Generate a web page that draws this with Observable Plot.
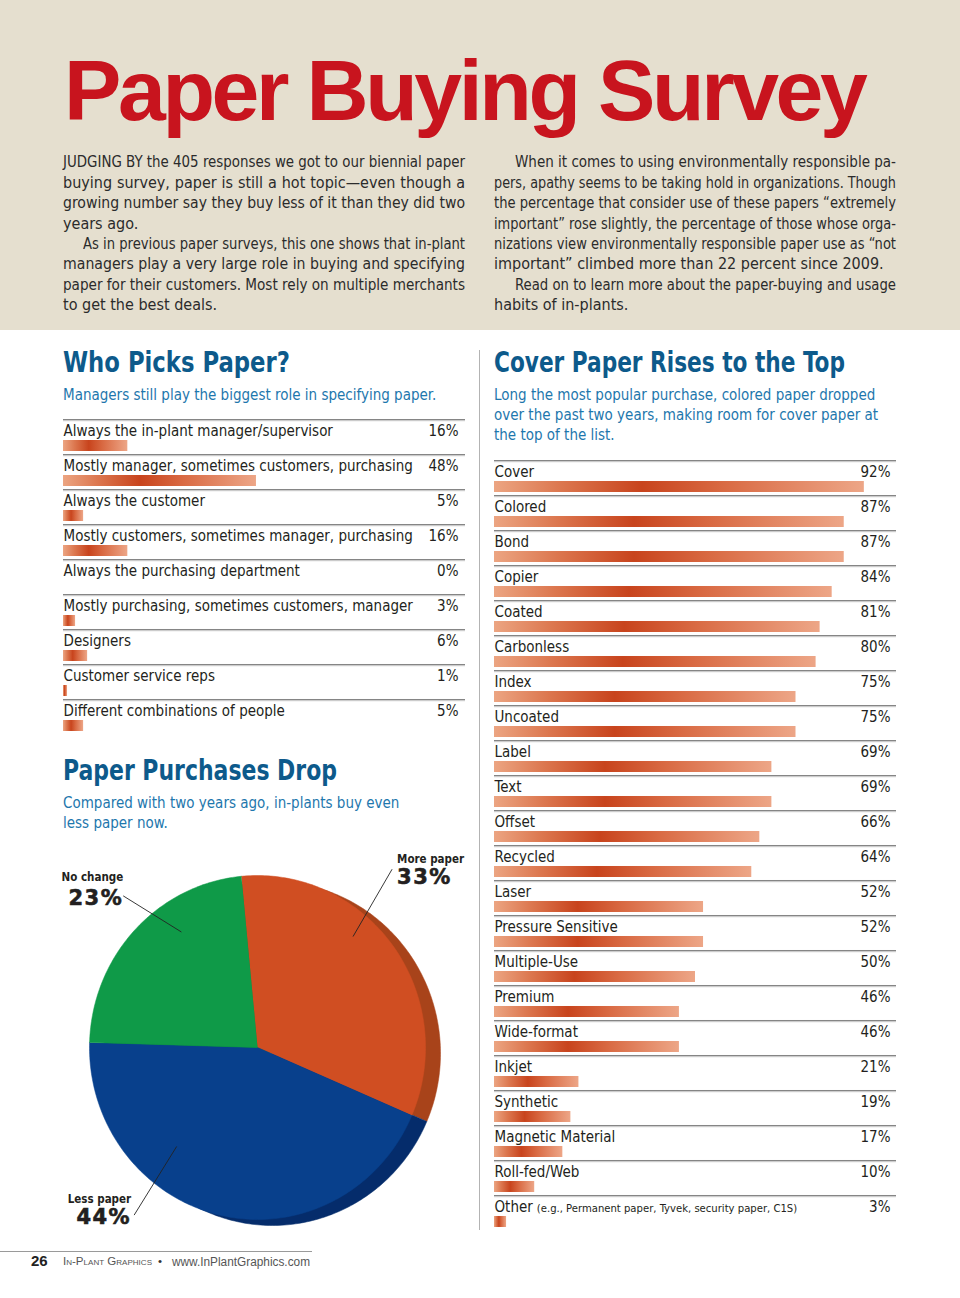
<!DOCTYPE html>
<html><head><meta charset="utf-8">
<script src="https://cdn.jsdelivr.net/npm/d3@7"></script>
<script src="https://cdn.jsdelivr.net/npm/@observablehq/plot@0.6"></script>
<style>
html,body{margin:0;padding:0;background:#fff;}
#page{position:relative;width:960px;height:1298px;overflow:hidden;font-family:"DejaVu Sans Condensed","DejaVu Sans",sans-serif;color:#231f20;}
.t{position:absolute;white-space:nowrap;}
#band{position:absolute;left:0;top:0;width:960px;height:330px;background:#e5dfcf;}
#divider{position:absolute;left:479px;top:350px;width:1px;height:880px;background:#b3b3b3;}
#footline{position:absolute;left:0;top:1251px;width:312px;height:1px;background:#9a9a9a;}
.chart{position:absolute;}
</style></head>
<body>
<svg width="0" height="0" style="position:absolute">
  <defs>
    <linearGradient id="barGrad" x1="0" y1="0" x2="1" y2="0">
      <stop offset="0" stop-color="#eca582"/>
      <stop offset="0.18" stop-color="#dc774f"/>
      <stop offset="0.40" stop-color="#c8441d"/>
      <stop offset="0.62" stop-color="#d96a43"/>
      <stop offset="1" stop-color="#eda687"/>
    </linearGradient>
  </defs>
</svg>
<div id="page">
  <div id="band"></div>
  <div id="divider"></div>
  <div id="footline"></div>
</div>
<script>
// ---------------- data ----------------
const whoLabels = ["Always the in-plant manager/supervisor","Mostly manager, sometimes customers, purchasing","Always the customer","Mostly customers, sometimes manager, purchasing","Always the purchasing department","Mostly purchasing, sometimes customers, manager","Designers","Customer service reps","Different combinations of people"];
const whoValues = [16,48,5,16,0,3,6,1,5];

const coverLabels = ["Cover","Colored","Bond","Copier","Coated","Carbonless","Index","Uncoated","Label","Text","Offset","Recycled","Laser","Pressure Sensitive","Multiple-Use","Premium","Wide-format","Inkjet","Synthetic","Magnetic Material","Roll-fed/Web","Other"];
const coverValues = [92,87,87,84,81,80,75,75,69,69,66,64,52,52,50,46,46,21,19,17,10,3];
const coverNotes = {"Other":"(e.g., Permanent paper, Tyvek, security paper, C1S)"};

const pieLabels = ["More paper","Less paper","No change"];
const pieValues = [33,44,23];

// ---------------- styles / layout ----------------
const COND = '"DejaVu Sans Condensed","DejaVu Sans",sans-serif';
const BLUE_H = "#0d5a8b", BLUE_S = "#1e77ad", INK = "#231f20";
const LABEL_FS = 15;
const page = document.getElementById("page");

function put(text, o){
  const d = document.createElement("div");
  d.className = "t";
  const fs = o.fs, lh = o.lh || fs;
  d.style.fontSize = fs + "px";
  d.style.lineHeight = lh + "px";
  d.style.left = o.left + "px";
  d.style.top = (o.base - lh/2 - 0.3465*fs) + "px";
  d.style.transformOrigin = "0 0";
  if (o.weight) d.style.fontWeight = o.weight;
  if (o.color) d.style.color = o.color;
  if (o.family) d.style.fontFamily = o.family;
  if (o.ls != null) d.style.letterSpacing = o.ls + "px";
  if (o.variant) d.style.fontVariant = o.variant;
  if (o.html) d.innerHTML = text; else d.textContent = text;
  page.appendChild(d);
  const nat = d.getBoundingClientRect().width;
  if (o.justify){
    const n = (text.match(/ /g)||[]).length;
    if (nat > o.justify) d.style.transform = `scaleX(${o.justify/nat})`;
    else if (n>0) d.style.wordSpacing = ((o.justify - nat)/n) + "px";
  } else if (o.fit){
    d.style.transform = `scaleX(${o.fit/nat})`;
  }
  return d;
}

// Title
put("Paper Buying Survey",{left:64,base:120,fs:86,weight:700,color:"#c8141e",family:'"Liberation Sans",Arial,sans-serif',ls:-3.4});

// Body columns
const bodyLeft = [
 ["JUDGING BY the 405 responses we got to our biennial paper",1,0],
 ["buying survey, paper is still a hot topic\u2014even though a",1,0],
 ["growing number say they buy less of it than they did two",1,0],
 ["years ago.",0,0],
 ["As in previous paper surveys, this one shows that in-plant",1,20],
 ["managers play a very large role in buying and specifying",1,0],
 ["paper for their customers. Most rely on multiple merchants",1,0],
 ["to get the best deals.",0,0]];
const bodyRight = [
 ["When it comes to using environmentally responsible pa-",1,21],
 ["pers, apathy seems to be taking hold in organizations. Though",1,0],
 ["the percentage that consider use of these papers \u201Cextremely",1,0],
 ["important\u201D rose slightly, the percentage of those whose orga-",1,0],
 ["nizations view environmentally responsible paper use as \u201Cnot",1,0],
 ["important\u201D climbed more than 22 percent since 2009.",0,0],
 ["Read on to learn more about the paper-buying and usage",1,21],
 ["habits of in-plants.",0,0]];
function column(lines, x){
  lines.forEach(([t,j,ind],i)=>{
    put(t,{left:x+ind,base:168+i*20.4,fs:16,color:"#2b2b2b",justify:j?402-ind:0});
  });
}
column(bodyLeft,63); column(bodyRight,494);

// Section headings
put("Who Picks Paper?",{left:63,base:373,fs:29,weight:700,color:BLUE_H,fit:227});
put("Managers still play the biggest role in specifying paper.",{left:63,base:401,fs:15,color:BLUE_S});
put("Cover Paper Rises to the Top",{left:494,base:373,fs:29,weight:700,color:BLUE_H,fit:351});
["Long the most popular purchase, colored paper dropped","over the past two years, making room for cover paper at","the top of the list."].forEach((t,i)=>put(t,{left:494,base:401+i*19.8,fs:15,color:BLUE_S}));
put("Paper Purchases Drop",{left:63,base:781,fs:29,weight:700,color:BLUE_H,fit:274});
["Compared with two years ago, in-plants buy even","less paper now."].forEach((t,i)=>put(t,{left:63,base:809+i*20,fs:15,color:BLUE_S}));

// Footer
put("26",{left:31,base:1266,fs:15,weight:700,color:"#222",family:'"Liberation Sans",Arial,sans-serif'});
put("In-Plant Graphics",{left:63,base:1266,fs:11.5,color:"#555",family:'"Liberation Sans",Arial,sans-serif',variant:"small-caps",fit:89});
put("\u2022",{left:158,base:1266,fs:11.5,color:"#333",family:'"Liberation Sans",Arial,sans-serif'});
put("www.InPlantGraphics.com",{left:172,base:1266,fs:12,color:"#555",family:'"Liberation Sans",Arial,sans-serif',fit:138});

// ---------------- bar charts ----------------
const ROW = 35.1;
const measureCtx = document.createElement("canvas").getContext("2d");
function barChart(labels, values, notes, left, top, labelRight){
  const data = labels.map((label,i)=>({label, value: values[i], note: (notes||{})[label]}));
  const n = data.length;
  const W = 402, H = 2 + n*ROW;
  measureCtx.font = `${LABEL_FS}px ${COND}`;
  const chart = Plot.plot({
    width: W, height: H,
    marginTop: 1, marginBottom: 0, marginLeft: 0, marginRight: 0,
    style: {fontFamily: COND, fontSize: LABEL_FS + "px", color: INK, background: "transparent", overflow: "visible"},
    x: {domain: [0,100], range: [0, W], axis: null},
    y: {domain: labels, range: [1, 1 + n*ROW], padding: 0, axis: null},
    marks: [
      Plot.barX(data, {x1: 0, x2: 100, y: "label", fill: "#858585", insetTop: 0, insetBottom: ROW-1.6}),
      Plot.barX(data, {x1: 0, x2: 100, y: "label", fill: "#dadada", insetTop: 1.6, insetBottom: ROW-2.4}),
      Plot.barX(data.filter(d=>d.value>0), {x: "value", y: "label", fill: "url(#barGrad)", insetTop: 21, insetBottom: 3}),
      Plot.text(data, {x: 0, y: "label", text: "label", textAnchor: "start", lineAnchor: "bottom", dy: -0.5, fill: INK, fontSize: LABEL_FS}),
      Plot.text(data.filter(d=>d.note), {x: 0, y: "label", text: "note", textAnchor: "start", lineAnchor: "bottom", dy: -1, fill: INK, fontSize: 11.2,
        dx: measureCtx.measureText("Other").width + 4}),
      Plot.text(data, {frameAnchor: "right", y: "label", text: d=>d.value + "%", textAnchor: "end", lineAnchor: "bottom", dy: -0.5, dx: -labelRight, fill: INK, fontSize: LABEL_FS})
    ]
  });
  chart.classList.add("chart");
  chart.style.left = left + "px";
  chart.style.top = top + "px";
  page.appendChild(chart);
}
barChart(whoLabels, whoValues, null, 63, 418, 7);
barChart(coverLabels, coverValues, coverNotes, 494, 457.5, 6);

// ---------------- pie ----------------
{
  const W = 420, H = 400, cx = 202, cy = 207, R = 168, Ry = 172;
  const faceColors = ["#d04e22","#08408c","#0f9a48"];
  const rimColors  = ["#a8431a","#052c6b","#0b7a38"];
  const start = -5.5 * Math.PI/180;
  const arcs = d3.pie().sort(null).startAngle(start).endAngle(start + 2*Math.PI)(pieValues);
  const slices = arcs.map((a,i)=>{
    const pts = [{x:0,y:0}];
    const steps = Math.max(8, Math.ceil((a.endAngle-a.startAngle)/(Math.PI/180)));
    for (let k=0;k<=steps;k++){
      const t = a.startAngle + (a.endAngle-a.startAngle)*k/steps;
      pts.push({x: Math.sin(t), y: Math.cos(t)});
    }
    return {label: pieLabels[i], value: pieValues[i], pts};
  });
  // callout layout (polar: degrees clockwise from north, radius in pie radii)
  const callout = {
    "More paper": {a0: 41.4, r0: 0.86, a1: 37.7, r1: 1.31, anchor: "start", dx: 5, dyTop: -6, dyBot: 15},
    "Less paper": {a0: 219.9, r0: 0.75, a1: 217, r1: 1.22, anchor: "end", dx: -3, dyTop: -12, dyBot: 9},
    "No change":  {a0: 326, r0: 0.81, a1: 317.8, r1: 1.19, anchor: "end", dx: 0, dyTop: -15, dyBot: 9}
  };
  const pol = (a,r)=>({x: r*Math.sin(a*Math.PI/180), y: r*Math.cos(a*Math.PI/180)});
  const calls = pieLabels.map((l,i)=>{
    const c = callout[l]; const p0 = pol(c.a0,c.r0), p1 = pol(c.a1,c.r1);
    return {label:l, value:pieValues[i], x1:p0.x, y1:p0.y, x2:p1.x, y2:p1.y, ...c};
  });
  const marks = [];
  slices.forEach((s,i)=>marks.push(Plot.line(s.pts,{x:"x",y:"y",fill:rimColors[i],stroke:rimColors[i],strokeWidth:0.5,dx:15,dy:6})));
  slices.forEach((s,i)=>marks.push(Plot.line(s.pts,{x:"x",y:"y",fill:faceColors[i],stroke:faceColors[i],strokeWidth:0.5})));
  marks.push(Plot.link(calls,{x1:"x1",y1:"y1",x2:"x2",y2:"y2",stroke:"#222",strokeWidth:0.9}));
  calls.forEach(c=>{
    marks.push(Plot.text([c],{x:"x2",y:"y2",text:"label",textAnchor:c.anchor,lineAnchor:"bottom",dx:c.dx,dy:c.dyTop,fontSize:11.5,fontWeight:700,fill:"#231f20",fontFamily:COND}));
    marks.push(Plot.text([c],{x:"x2",y:"y2",text:d=>d.value+"%",textAnchor:c.anchor,lineAnchor:"bottom",dx:c.dx,dy:c.dyBot,fontSize:21,fontWeight:700,fill:"#231f20",fontFamily:'"DejaVu Sans",sans-serif'}));
  });
  const chart = Plot.plot({
    width: W, height: H, margin: 0,
    style: {background: "transparent", overflow: "visible"},
    x: {domain: [-cx/R, (W-cx)/R], range: [0, W], axis: null},
    y: {domain: [-(H-cy)/Ry, cy/Ry], range: [H, 0], axis: null},
    marks
  });
  chart.querySelectorAll("text").forEach(t=>{ if (/^\d+%$/.test(t.textContent)) { t.style.letterSpacing = "1.5px"; t.style.stroke = "#231f20"; t.style.strokeWidth = "0.6px"; } });
  chart.classList.add("chart");
  chart.style.left = "55px"; chart.style.top = "840px";
  page.appendChild(chart);
}
</script>
</body></html>
